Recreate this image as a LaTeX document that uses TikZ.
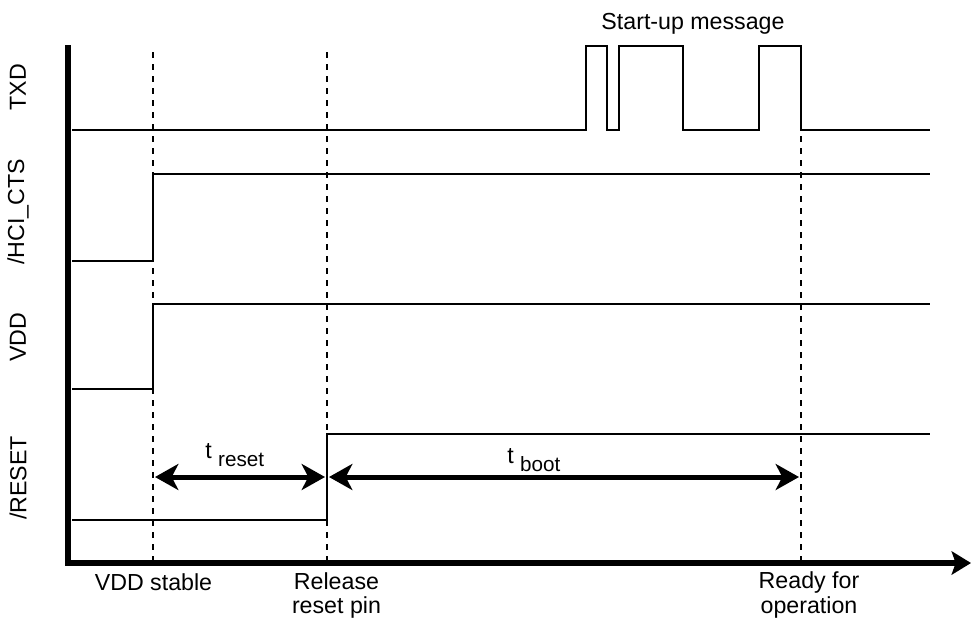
\documentclass[tikz,border=0pt]{standalone}
\usepackage{fontspec}
\setmainfont{Liberation Sans}
\usetikzlibrary{arrows.meta}
\begin{document}
\begin{tikzpicture}[x=0.75pt,y=-0.75pt,
  sig/.style={line width=0.8pt, line join=miter},
  guide/.style={line width=2pt, dash pattern=on 4.5pt off 4.5pt},
  axisline/.style={line width=4.5pt, line join=miter, -{Stealth[length=14.5pt,width=17.5pt,inset=3pt]}},
  span/.style={line width=3.75pt, {Stealth[length=17.5pt,width=19.5pt,inset=5pt]}-{Stealth[length=17.5pt,width=19.5pt,inset=5pt]}},
  lab/.style={font=\fontsize{17.4}{18}\selectfont, inner sep=0pt},
  ylab/.style={lab, rotate=90, anchor=center},
  sub/.style={font=\fontsize{15.5}{16}\selectfont},
]
\useasboundingbox (0,0) rectangle (971,622);

% named points
\coordinate (g1t) at (153,52);  \coordinate (g1b) at (153,563);
\coordinate (g2t) at (327,52);  \coordinate (g2b) at (327,563);
\coordinate (g3t) at (801,52);  \coordinate (g3b) at (801,563);
\coordinate (axtop) at (68,45); \coordinate (axcorner) at (68,563); \coordinate (axend) at (971,563);
\coordinate (r1) at (155,477); \coordinate (r2) at (325,477);
\coordinate (b1) at (329,477); \coordinate (b2) at (799,477);

% guide lines
\draw[guide] (g1t) -- (g1b);
\draw[guide] (g2t) -- (g2b);
\draw[guide] (g3t) -- (g3b);

% signals
\draw[sig] (72,130) -- (586,130) -- (586,46) -- (607,46) -- (607,130) -- (619,130) -- (619,46)
  -- (683,46) -- (683,130) -- (759,130) -- (759,46) -- (801,46) -- (801,130) -- (930,130);
\draw[sig] (72,261) -- (153,261) -- (153,174) -- (930,174);
\draw[sig] (72,389) -- (153,389) -- (153,304) -- (930,304);
\draw[sig] (72,520) -- (327,520) -- (327,434) -- (930,434);

% axes
\draw[axisline] (axtop) -- (axcorner) -- (axend);

% spans
\draw[span] (r1) -- (r2);
\draw[span] (b1) -- (b2);

% labels
\node[ylab] (ltxd) at (18,87) {TXD};
\node[ylab] (lcts) at (18,212) {/HCI\_CTS};
\node[ylab] (lvdd) at (18,337) {VDD};
\node[ylab] (lrst) at (18,478) {/RESET};

\node[lab, anchor=base] (msg) at (693,29) {Start-up message};
\node[lab, anchor=base west] (treset) at (205,458) {t \raisebox{-6pt}{\fontsize{15.5}{16}\selectfont reset}};
\node[lab, anchor=base west] (tboot) at (507,463) {t \raisebox{-6.5pt}{\fontsize{15.5}{16}\selectfont boot}};

\node[lab, anchor=base] (e1) at (153.5,590) {VDD stable};
\node[lab, anchor=base] (e2a) at (336.5,589) {Release};
\node[lab, anchor=base] (e2b) at (336.5,613) {reset pin};
\node[lab, anchor=base] (e3a) at (809,588) {Ready for};
\node[lab, anchor=base] (e3b) at (809,613) {operation};
\end{tikzpicture}
\end{document}
